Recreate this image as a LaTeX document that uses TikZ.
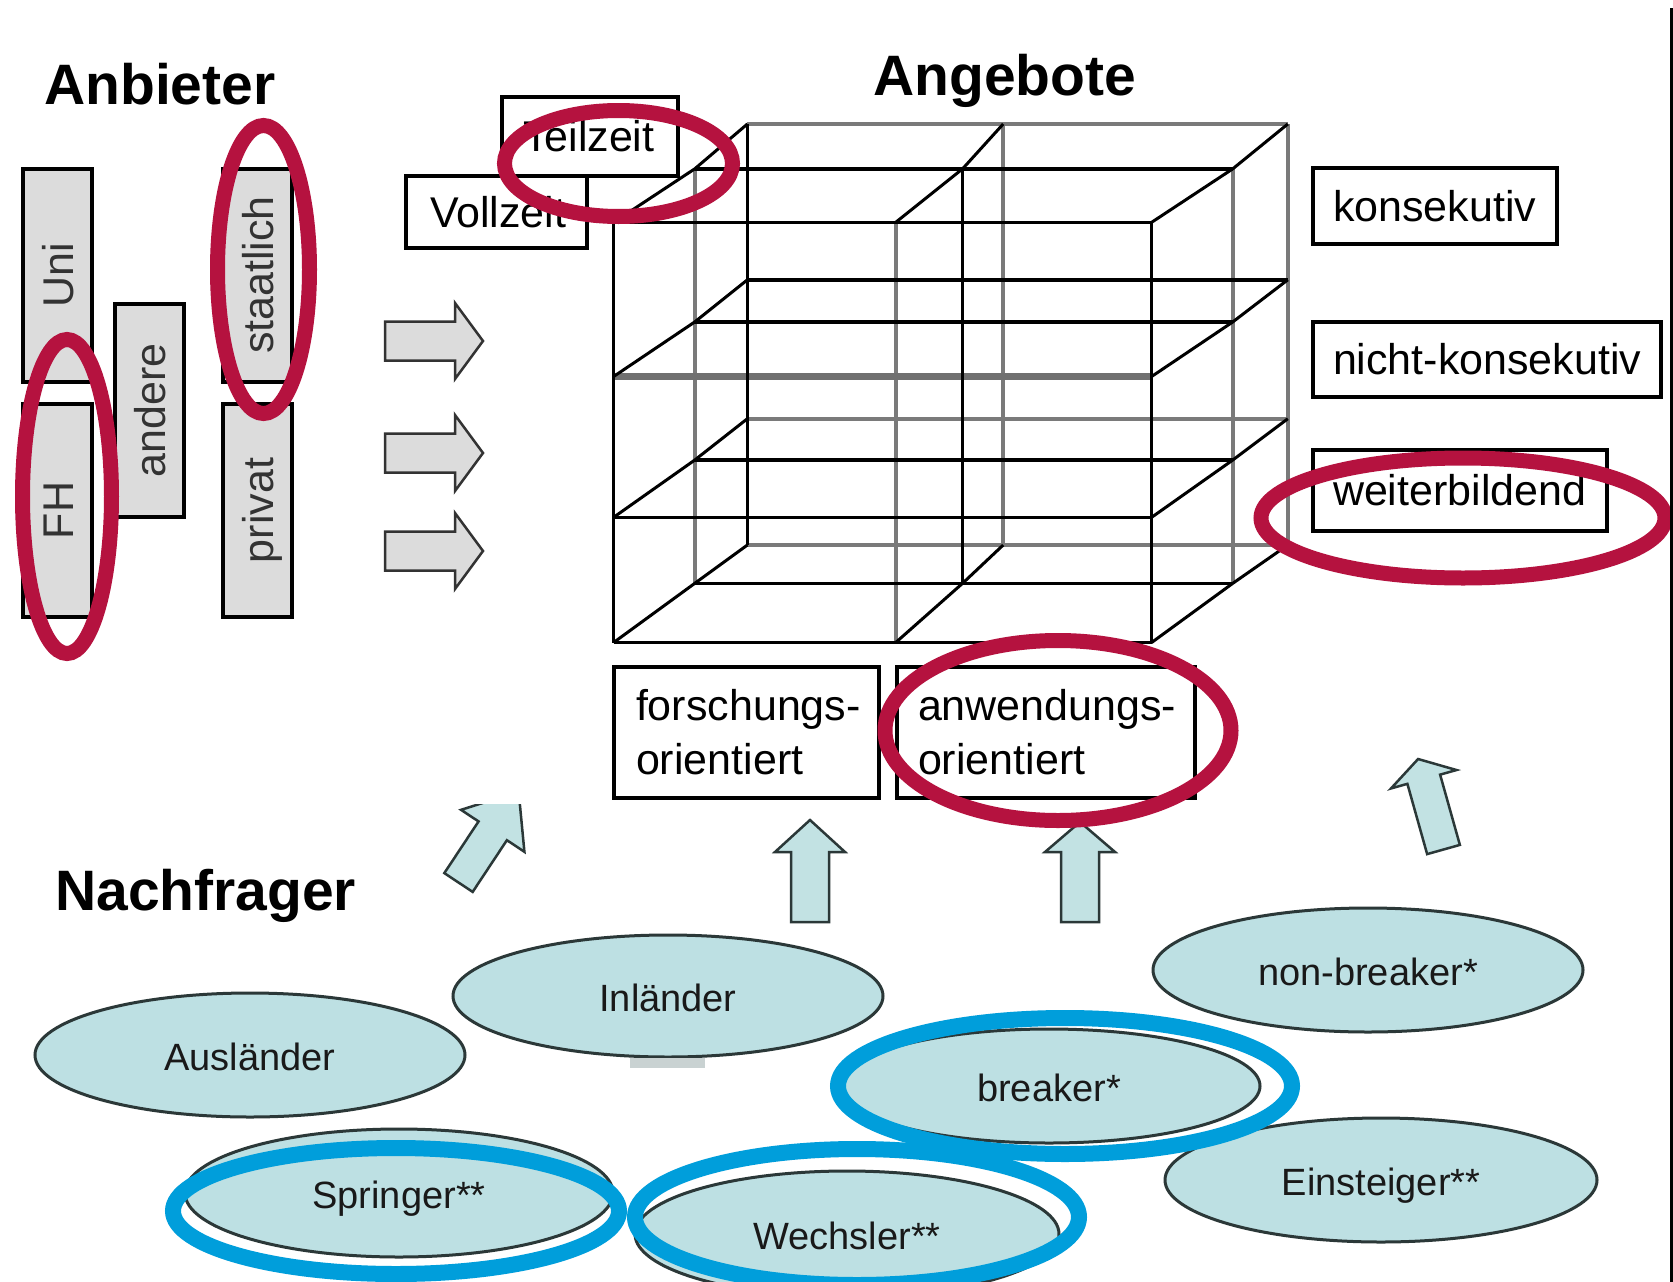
\documentclass[tikz,border=0pt]{standalone}
\usepackage{fontspec}
\setmainfont{Liberation Sans}
\usetikzlibrary{shapes.geometric}
\hyphenpenalty=10000
\exhyphenpenalty=10000
\definecolor{redring}{HTML}{B5123F}
\definecolor{bluering}{HTML}{009EDB}
\definecolor{ellfill}{HTML}{BDE0E3}
\definecolor{ellline}{HTML}{2B3838}
\definecolor{boxgray}{HTML}{DCDCDC}
\definecolor{cubegray}{HTML}{7A7A7A}
\definecolor{cubedark}{HTML}{707070}
\definecolor{arrowfill}{HTML}{C2E2E3}
\definecolor{shadowbar}{HTML}{C9D2D2}
\tikzset{
  headline/.style={font=\fontsize{57}{68}\selectfont\bfseries, anchor=base west, inner sep=0pt},
  optbox/.style={draw=black, line width=3.5pt, fill=white, font=\fontsize{43}{54}\selectfont, align=left, inner ysep=0pt},
  provider/.style={draw=black, line width=4pt, fill=boxgray, rotate=90, font=\fontsize{43}{54}\selectfont, text=black!80, minimum width=213pt, minimum height=69pt, text height=31pt, text depth=0pt, inner sep=0pt},
  group/.style={ellipse, draw=ellline, line width=3pt, fill=ellfill, inner sep=0pt, font=\fontsize{38}{46}\selectfont, text=black!90, text height=30pt, text depth=0pt},
  redmark/.style={draw=redring, line width=15pt},
  bluemark/.style={draw=bluering, line width=16pt},
  grayarrow/.style={draw=black!80, line width=2.5pt, fill=boxgray, line join=miter},
  tealarrow/.style={draw=ellline, line width=2.5pt, fill=arrowfill, line join=miter},
  backline/.style={draw=cubegray, line width=4pt},
  frontline/.style={draw=black, line width=3.5pt},
  depthline/.style={draw=black, line width=3pt},
}
\begin{document}
\begin{tikzpicture}[x=1pt,y=-1pt]
\fill[white] (0,0) rectangle (1673,1282);
\useasboundingbox (0,0) rectangle (1673,1282);

% ---------- cube (Angebote) ----------
\draw[backline] (694.8,168.8) -- (694.8,583.3);
\draw[backline] (895.6,222.4) -- (895.6,642.6);
\draw[backline] (1003.2,124) -- (1003.2,545);
\draw[backline] (1232.8,168.8) -- (1232.8,583.3);
\draw[backline] (1287.8,124) -- (1287.8,545);
\foreach \yy in {124,418.7,545} \draw[backline] (747.4,\yy) -- (1287.8,\yy);
\draw[draw=cubedark, line width=7pt] (613.5,376.6) -- (1151.5,376.6);
\foreach \xx in {613.5,1151.5} \draw[frontline] (\xx,222.4) -- (\xx,642.6);
\draw[frontline] (747.4,124) -- (747.4,545);
\draw[frontline] (962.6,168.8) -- (962.6,583.3);
\foreach \yy in {168.8,321.9,460,583.3} \draw[frontline] (694.8,\yy) -- (1232.8,\yy);
\foreach \yy in {222.4,517.4,642.6} \draw[frontline] (613.5,\yy) -- (1151.5,\yy);
\draw[frontline] (747.4,279.8) -- (1287.8,279.8);
\foreach \f/\m/\b in {222.4/168.8/124, 376.6/321.9/279.8, 517.4/460/418.7, 642.6/583.3/545} {
  \draw[depthline] (613.5,\f) -- (694.8,\m) -- (747.4,\b);
  \draw[depthline] (1151.5,\f) -- (1232.8,\m) -- (1287.8,\b);
}
\foreach \f/\m/\b in {222.4/168.8/124, 642.6/583.3/545}
  \draw[depthline] (895.6,\f) -- (962.6,\m) -- (1003.2,\b);

% ---------- titles ----------
\node[headline] (anbieter) at (44,104) {Anbieter};
\node[headline] (angebote) at (873,95) {Angebote};
\node[headline] (nachfrager) at (55,910) {Nachfrager};

% ---------- Anbieter boxes ----------
\node[provider] (uni) at (57.5,275) {Uni};
\node[provider] (fh) at (57.5,510.5) {FH};
\node[provider] (andere) at (149.5,410.5) {andere};
\node[provider] (staatlich) at (257.5,275) {staatlich};
\node[provider] (privat) at (257.5,510.5) {privat};

% ---------- gray arrows ----------
\foreach \yc in {341,453,551}
  \draw[grayarrow] (385,\yc-19.5) -- (455,\yc-19.5) -- (455,\yc-38) -- (483,\yc) -- (455,\yc+38) -- (455,\yc+19.5) -- (385,\yc+19.5) -- cycle;

% ---------- option boxes ----------
\node[optbox, minimum width=176pt, minimum height=79pt, text width=134pt, inner xsep=21pt] (teilzeit) at (590,136.5) {Teilzeit};
\node[optbox, minimum width=181pt, minimum height=72pt, text width=133pt, inner xsep=24pt] (vollzeit) at (496.5,212) {Vollzeit};
\node[optbox, minimum width=244pt, minimum height=76pt, text width=204pt, inner xsep=20pt] (konsekutiv) at (1435,206) {konsekutiv};
\node[optbox, minimum width=348pt, minimum height=75pt, text width=308pt, inner xsep=20pt] (nichtkons) at (1487,359.5) {nicht-konsekutiv};
\node[optbox, minimum width=294pt, minimum height=81pt, text width=254pt, inner xsep=20pt] (weiter) at (1460,490.5) {weiterbildend};
\node[optbox, minimum width=265pt, minimum height=131pt, text width=221pt, inner xsep=22pt] (forschung) at (746.5,732.5) {forschungs-\\orientiert};
\node[optbox, minimum width=298pt, minimum height=131pt, text width=256pt, inner xsep=21pt] (anwendung) at (1046,732.5) {anwendungs-\\orientiert};

% ---------- teal arrows ----------
\draw[tealarrow] (791,922) -- (791,852) -- (775,852) -- (810,820) -- (845,852) -- (829,852) -- (829,922) -- cycle;
\draw[tealarrow] (1061,922) -- (1061,852) -- (1045,852) -- (1080,822) -- (1115,852) -- (1099,852) -- (1099,922) -- cycle;
\begin{scope}[shift={(1443.5,849.5)}, rotate=15.7]
  \draw[tealarrow] (-17,0) -- (-17,-73) -- (-34,-73) -- (0,-94) -- (34,-73) -- (17,-73) -- (17,0) -- cycle;
\end{scope}
\begin{scope}
  \clip (0,804) rectangle (1673,1282);
  \begin{scope}[shift={(458.5,882.5)}, rotate=-33.5]
    \draw[tealarrow] (-17,0) -- (-17,-62) -- (-38,-62) -- (0,-109) -- (38,-62) -- (17,-62) -- (17,0) -- cycle;
  \end{scope}
\end{scope}

% ---------- Nachfrager ellipses ----------
\node[group, minimum width=430pt, minimum height=124pt] (auslaender) at (250,1055) {Ausländer};
\node[group, minimum width=430pt, minimum height=122pt] (inlaender) at (668,996) {Inländer};
\node[group, minimum width=430pt, minimum height=124pt] (nonbreaker) at (1368,970) {non-breaker*};
\node[group, minimum width=422pt, minimum height=114pt] (breaker) at (1049,1086) {breaker*};
\node[group, minimum width=432pt, minimum height=124pt] (einsteiger) at (1381,1180) {Einsteiger**};
\node[group, minimum width=428pt, minimum height=128pt] (springer) at (399,1193) {Springer**};
\node[group, minimum width=424pt, minimum height=126pt] (wechsler) at (847,1234) {Wechsler**};
\fill[shadowbar] (630,1058) rectangle (705,1068);

% ---------- red marks ----------
\draw[redmark] (67,496.5) ellipse [x radius=44.5pt, y radius=157pt];
\draw[redmark] (263.5,269.5) ellipse [x radius=46pt, y radius=144pt];
\draw[redmark] (618.5,163.5) ellipse [x radius=114pt, y radius=53pt];
\draw[redmark] (1463,518) ellipse [x radius=202pt, y radius=60pt];
\draw[redmark] (1058,730.5) ellipse [x radius=173pt, y radius=90pt];

% ---------- blue marks ----------
\draw[bluemark] (1065,1086) ellipse [x radius=227pt, y radius=68pt];
\draw[bluemark] (396,1211) ellipse [x radius=223pt, y radius=63pt];
\draw[bluemark] (857,1217) ellipse [x radius=222pt, y radius=68pt];

% ---------- right border line ----------
\draw[line width=3pt] (1671,8) -- (1671,1282);
\end{tikzpicture}
\end{document}
